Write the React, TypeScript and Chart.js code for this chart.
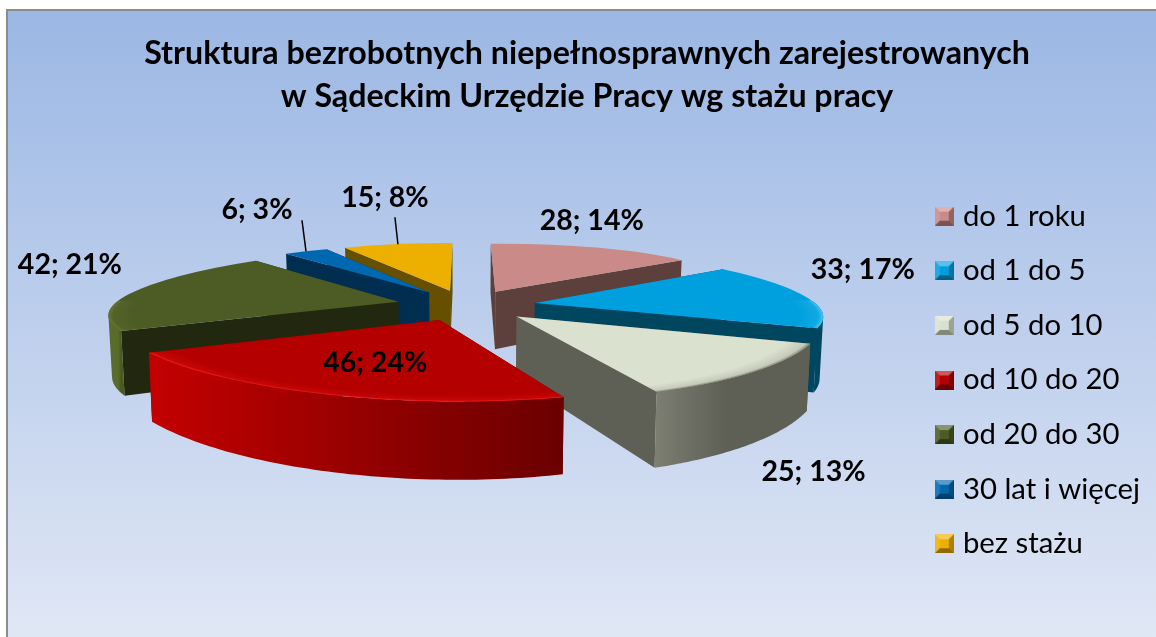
import React, { useEffect, useRef } from "react";
import { Chart, registerables } from "chart.js";

Chart.register(...registerables);

const titleLines = [
  "Struktura bezrobotnych niepełnosprawnych zarejestrowanych",
  "w Sądeckim Urzędzie Pracy wg stażu pracy",
];
const categories = ["do 1 roku", "od 1 do 5", "od 5 do 10", "od 10 do 20", "od 20 do 30", "30 lat i więcej", "bez stażu"];
const values = [28, 33, 25, 46, 42, 6, 15];
const percents = [14, 17, 13, 24, 21, 3, 8];

const topColors = ["#c98a88", "#00a0df", "#dbe1cf", "#b50000", "#4c5c24", "#0068b0", "#eeb000"];
const faceColors = ["#5d403c", "#00465f", "#5e5f55", "#6a0000", "#22280f", "#002e50", "#665000"];
const wallFrom = ["#6d4a47", "#00465f", "#7d7e72", "#c40000", "#5a6b2c", "#003a64", "#7a6000"];
const wallTo = ["#5d403c", "#00465f", "#5e5f55", "#6a0000", "#4a5822", "#002e50", "#665000"];
const wallStop = [1, 1, 0.45, 1, 1, 1, 1];
const rimColors = ["rgba(0,0,0,0)", "rgba(90,205,245,0.8)", "rgba(110,112,95,0.8)", "rgba(255,30,30,0.9)", "rgba(110,130,60,0.7)", "rgba(0,0,0,0)", "rgba(0,0,0,0)"];

// label placement relative to the outer midpoint of its slice
const labelNudge: number[][] = [[0, -27], [61, -25], [53, 100], [72, -34], [-71, -24], [-49, -41], [-13, -46]];
const leaderEnds: (number[] | null)[] = [null, null, null, null, null, [45, 10], [10, 19]];

const VIEW = { cx: 466, cy: 305, radius: 280, explode: 70, persp: 0.19, flat: 0.22, depth: 60, shrink: 0.99 };
const W = 1156;
const H = 637;

function bevelSwatch(color: string) {
  const s = 19;
  const b = 5;
  const c = document.createElement("canvas");
  c.width = s;
  c.height = s;
  const g = c.getContext("2d")!;
  g.fillStyle = color;
  g.fillRect(0, 0, s, s);
  const tri = (pts: number[][], fill: string) => {
    g.fillStyle = fill;
    g.beginPath();
    pts.forEach((p, i) => (i ? g.lineTo(p[0], p[1]) : g.moveTo(p[0], p[1])));
    g.closePath();
    g.fill();
  };
  tri([[0, 0], [s, 0], [s - b, b], [b, b]], "rgba(255,255,255,0.35)");
  tri([[0, 0], [b, b], [b, s - b], [0, s]], "rgba(255,255,255,0.12)");
  tri([[s, 0], [s, s], [s - b, s - b], [s - b, b]], "rgba(0,0,0,0.28)");
  tri([[0, s], [s, s], [s - b, s - b], [b, s - b]], "rgba(0,0,0,0.4)");
  return c;
}

function discPoint(arc: any, ang: number, rad: number) {
  const mid = (arc.startAngle + arc.endAngle) / 2;
  const X = rad * Math.cos(ang) + VIEW.explode * Math.cos(mid);
  const Y = -(rad * Math.sin(ang) + VIEW.explode * Math.sin(mid));
  const w = 1 + (VIEW.persp * Y) / arc.outerRadius;
  return { x: VIEW.cx + X / w, y: VIEW.cy - (VIEW.flat * Y) / w, w };
}

function sliceMatrix(arc: any) {
  const R = arc.outerRadius;
  const s0 = discPoint(arc, 0, 0);
  const s1 = discPoint(arc, arc.startAngle, R);
  const s2 = discPoint(arc, arc.endAngle, R);
  const v1 = [R * Math.cos(arc.startAngle), R * Math.sin(arc.startAngle)];
  const v2 = [R * Math.cos(arc.endAngle), R * Math.sin(arc.endAngle)];
  const u1 = [s1.x - s0.x, s1.y - s0.y];
  const u2 = [s2.x - s0.x, s2.y - s0.y];
  const det = v1[0] * v2[1] - v2[0] * v1[1];
  const a = (u1[0] * v2[1] - u2[0] * v1[1]) / det;
  const c = (u2[0] * v1[0] - u1[0] * v2[0]) / det;
  const b = (u1[1] * v2[1] - u2[1] * v1[1]) / det;
  const d = (u2[1] * v1[0] - u1[1] * v2[0]) / det;
  const e = s0.x - a * arc.x - c * arc.y;
  const f = s0.y - b * arc.x - d * arc.y;
  return { a, b, c, d, e, f };
}

function pie3dPoint(arc: any, m: any, ang: number, rad: number) {
  const px = arc.x + rad * Math.cos(ang);
  const py = arc.y + rad * Math.sin(ang);
  const w = discPoint(arc, ang, rad).w;
  const x = m.a * px + m.c * py + m.e;
  const y = m.b * px + m.d * py + m.f;
  return {
    x,
    y,
    bx: VIEW.cx + (x - VIEW.cx) * VIEW.shrink,
    by: y + VIEW.depth / w,
  };
}

const pie3d = {
  id: "pie3d",
  beforeDraw(chart: any) {
    const { ctx } = chart;
    ctx.save();
    ctx.fillStyle = "#ffffff";
    ctx.fillRect(0, 0, W, H);
    const g = ctx.createLinearGradient(0, 10, 0, H);
    g.addColorStop(0, "#9bb7e4");
    g.addColorStop(1, "#e0e7f5");
    ctx.fillStyle = g;
    ctx.fillRect(7, 10, W - 7, H - 10);
    ctx.strokeStyle = "#8c8c8c";
    ctx.lineWidth = 2;
    ctx.beginPath();
    ctx.moveTo(7, H);
    ctx.lineTo(7, 10);
    ctx.lineTo(W, 10);
    ctx.stroke();
    ctx.restore();
  },
  beforeDatasetDraw(chart: any, args: any) {
    const { ctx } = chart;
    const arcs: any[] = args.meta.data;
    const order = arcs
      .map((arc, i) => ({ arc, i, y: -Math.sin((arc.startAngle + arc.endAngle) / 2) }))
      .sort((p, q) => q.y - p.y);
    for (const { arc, i } of order) {
      const m = sliceMatrix(arc);
      const R = arc.outerRadius;
      const tip = pie3dPoint(arc, m, 0, 0);
      // radial cut faces
      for (const ang of [arc.startAngle, arc.endAngle]) {
        const r = pie3dPoint(arc, m, ang, R);
        ctx.fillStyle = faceColors[i];
        ctx.beginPath();
        ctx.moveTo(tip.x, tip.y);
        ctx.lineTo(r.x, r.y);
        ctx.lineTo(r.bx, r.by);
        ctx.lineTo(tip.bx, tip.by);
        ctx.closePath();
        ctx.fill();
      }
      // outer wall: only the part that faces the viewer, as one swept path
      const lim0 = Math.max(arc.startAngle, -Math.PI / 2 + Math.PI * 0.47);
      const lim1 = Math.min(arc.endAngle, -Math.PI / 2 + Math.PI * 1.53);
      if (lim1 > lim0) {
        const top: any[] = [];
        const n = 64;
        for (let k = 0; k <= n; k++) top.push(pie3dPoint(arc, m, lim0 + ((lim1 - lim0) * k) / n, R));
        const g = ctx.createLinearGradient(Math.min(top[0].x, top[n].x), 0, Math.max(top[0].x, top[n].x), 0);
        g.addColorStop(0, wallFrom[i]);
        g.addColorStop(wallStop[i], wallTo[i]);
        ctx.fillStyle = g;
        ctx.beginPath();
        for (let k = 0; k < n; k++) {
          const p = top[k];
          const q = top[k + 1];
          let quad = [[p.x, p.y], [q.x, q.y], [q.bx, q.by], [p.bx, p.by]];
          let area = 0;
          quad.forEach((v, j) => {
            const u = quad[(j + 1) % 4];
            area += v[0] * u[1] - u[0] * v[1];
          });
          if (area < 0) quad = quad.reverse();
          ctx.moveTo(quad[0][0], quad[0][1]);
          for (let j = 1; j < 4; j++) ctx.lineTo(quad[j][0], quad[j][1]);
          ctx.closePath();
        }
        ctx.fill("nonzero");
      }
      // top surface, drawn by the library's own arc element
      ctx.save();
      ctx.transform(m.a, m.b, m.c, m.d, m.e, m.f);
      ctx.save();
      arc.draw(ctx);
      ctx.restore();
      // bevelled rim on the side that faces the viewer
      if (lim1 > lim0) {
        const rg = ctx.createRadialGradient(arc.x, arc.y, R * 0.92, arc.x, arc.y, R);
        rg.addColorStop(0, rimColors[i].replace(/[\d.]+\)$/, "0)"));
        rg.addColorStop(0.8, rimColors[i].replace(/[\d.]+\)$/, "0.2)"));
        rg.addColorStop(1, rimColors[i]);
        ctx.fillStyle = rg;
        ctx.beginPath();
        ctx.moveTo(arc.x, arc.y);
        ctx.arc(arc.x, arc.y, R, lim0, lim1);
        ctx.closePath();
        ctx.fill();
      }
      ctx.restore();
    }
    return false;
  },
  afterDraw(chart: any) {
    const { ctx } = chart;
    const arcs: any[] = chart.getDatasetMeta(0).data;
    ctx.save();
    ctx.font = "bold 28.5px Lato";
    ctx.fillStyle = "#000000";
    ctx.textAlign = "center";
    ctx.textBaseline = "middle";
    arcs.forEach((arc, i) => {
      const mid = (arc.startAngle + arc.endAngle) / 2;
      const a = discPoint(arc, mid, arc.outerRadius);
      const lx = a.x + labelNudge[i][0];
      const ly = a.y + labelNudge[i][1];
      ctx.fillText(`${values[i]}; ${percents[i]}%`, lx, ly);
      const end = leaderEnds[i];
      if (end) {
        ctx.strokeStyle = "#000000";
        ctx.lineWidth = 1.5;
        ctx.beginPath();
        ctx.moveTo(lx + end[0], ly + end[1]);
        ctx.lineTo(a.x, a.y);
        ctx.stroke();
      }
    });
    ctx.restore();
  },
};

export default function App() {
  const ref = useRef<HTMLCanvasElement>(null);
  useEffect(() => {
    document.body.style.margin = "0";
    document.documentElement.style.overflow = "hidden";
    const chart = new Chart(ref.current!, {
      type: "pie",
      data: {
        labels: categories,
        datasets: [{ data: values, backgroundColor: topColors, borderWidth: 0 }],
      },
      plugins: [pie3d],
      options: {
        animation: false,
        responsive: false,
        radius: VIEW.radius,
        layout: { padding: { top: 32, right: 6, left: 24 } },
        plugins: {
          tooltip: { enabled: false },
          title: {
            display: true,
            text: titleLines,
            color: "#000000",
            font: { family: "Lato", size: 32.2, weight: "bold", lineHeight: 43 / 32.2 },
            padding: { top: 0, bottom: 5 },
          },
          legend: {
            position: "right",
            fullSize: false,
            labels: {
              font: { family: "Lato", size: 29.3 },
              color: "#000000",
              usePointStyle: true,
              boxWidth: 8,
              boxHeight: 19,
              padding: 25.3,
              generateLabels: () =>
                categories.map((text, i) => ({
                  text,
                  pointStyle: bevelSwatch(topColors[i]),
                  fillStyle: topColors[i],
                  strokeStyle: topColors[i],
                  lineWidth: 0,
                  hidden: false,
                  index: i,
                })),
            },
          },
        },
      },
    } as any);
    return () => chart.destroy();
  }, []);
  return (
    <div style={{ width: W, height: H }}>
      <canvas ref={ref} width={W} height={H} style={{ display: "block" }} />
    </div>
  );
}
